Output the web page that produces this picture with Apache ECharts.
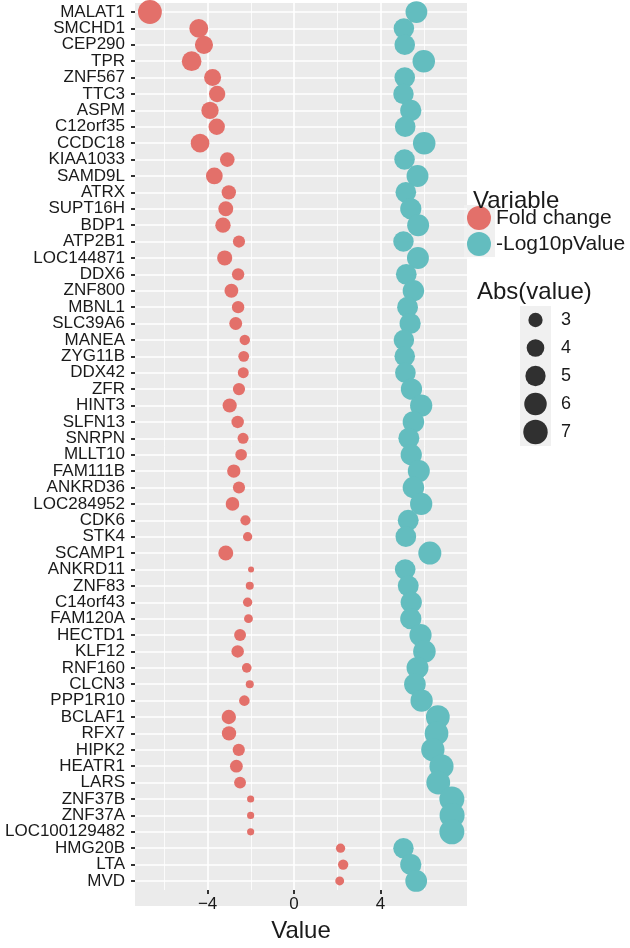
<!DOCTYPE html>
<html><head><meta charset="utf-8">
<script src="https://cdn.jsdelivr.net/npm/echarts@6/dist/echarts.min.js"></script>
<style>html,body{margin:0;padding:0;background:#fff}#c{width:630px;height:948px}</style>
</head><body><div id="c"></div><script>
const genes = ["MALAT1","SMCHD1","CEP290","TPR","ZNF567","TTC3","ASPM","C12orf35","CCDC18","KIAA1033","SAMD9L","ATRX","SUPT16H","BDP1","ATP2B1","LOC144871","DDX6","ZNF800","MBNL1","SLC39A6","MANEA","ZYG11B","DDX42","ZFR","HINT3","SLFN13","SNRPN","MLLT10","FAM111B","ANKRD36","LOC284952","CDK6","STK4","SCAMP1","ANKRD11","ZNF83","C14orf43","FAM120A","HECTD1","KLF12","RNF160","CLCN3","PPP1R10","BCLAF1","RFX7","HIPK2","HEATR1","LARS","ZNF37B","ZNF37A","LOC100129482","HMG20B","LTA","MVD"];
const foldChange = [-6.67,-4.41,-4.17,-4.74,-3.77,-3.56,-3.89,-3.58,-4.35,-3.09,-3.69,-3.02,-3.16,-3.29,-2.55,-3.21,-2.59,-2.90,-2.59,-2.70,-2.28,-2.33,-2.35,-2.55,-2.98,-2.61,-2.36,-2.45,-2.79,-2.55,-2.85,-2.25,-2.15,-3.16,-1.99,-2.05,-2.15,-2.11,-2.50,-2.61,-2.19,-2.05,-2.30,-3.02,-3.01,-2.56,-2.67,-2.50,-2.01,-2.01,-2.01,2.15,2.27,2.11];
const negLog10p = [5.66,5.08,5.12,6.00,5.12,5.06,5.40,5.14,6.02,5.11,5.71,5.17,5.40,5.74,5.06,5.73,5.19,5.52,5.25,5.37,5.08,5.12,5.15,5.43,5.88,5.52,5.31,5.42,5.77,5.52,5.88,5.28,5.17,6.28,5.14,5.28,5.42,5.40,5.85,6.03,5.71,5.59,5.90,6.65,6.59,6.42,6.82,6.67,7.30,7.31,7.30,5.06,5.40,5.65];
const seriesNames = ["Fold change","-Log10pValue"];
const sizeBreaks = ["3","4","5","6","7"];
const xMajorTicks = [-4,0,4];
const xMinorTicks = [-6,-2,2,6];

const FONT = "'Liberation Sans', Arial, Helvetica, sans-serif";
const allAbs = foldChange.concat(negLog10p).map(Math.abs);
const absMin = Math.min(...allAbs), absMax = Math.max(...allAbs);
function dotSize(v){
  const a = Math.abs(v);
  const t = Math.max(0, Math.min(1, (a - absMin) / (absMax - absMin)));
  return 6 + 19 * Math.sqrt(t);
}
const Y_MIN = -0.55, Y_MAX = genes.length - 1 + 0.55;
const rowIdx = genes.map((g, i) => i);
const labelPositions = [Y_MIN].concat(rowIdx, [Y_MAX]);

const chart = echarts.init(document.getElementById('c'), null, {renderer: 'canvas'});
chart.setOption({
  animation: false,
  backgroundColor: '#ffffff',
  textStyle: {fontFamily: FONT},
  title: [
    {text: 'Variable', left: 473, top: 189, textStyle: {fontSize: 24, fontWeight: 'normal', color: '#1a1a1a', fontFamily: FONT}, padding: 0},
    {text: 'Abs(value)', left: 477, top: 280, textStyle: {fontSize: 24, fontWeight: 'normal', color: '#1a1a1a', fontFamily: FONT}, padding: 0}
  ],
  legend: {
    data: seriesNames,
    orient: 'vertical', left: 467, top: 206, padding: 0,
    itemWidth: 24, itemHeight: 24, itemGap: 2, icon: 'circle',
    textStyle: {fontSize: 21, color: '#1a1a1a', fontFamily: FONT},
    selectedMode: false
  },
  graphic: [
    {type: 'rect', left: 464, top: 205, shape: {width: 31, height: 52}, style: {fill: '#F0F0F0'}, z: -1, silent: true},
    {type: 'rect', left: 135, top: 3, shape: {width: 332, height: 903}, style: {fill: '#EBEBEB'}, z: -10, silent: true}
  ],
  grid: [
    {left: 135, top: 3, width: 332, height: 903, show: false, z: -5},
    {left: 520, top: 306, width: 31, height: 140, show: true, backgroundColor: '#F0F0F0', borderWidth: 0, z: -5}
  ],
  xAxis: [
    {type: 'value', gridIndex: 0, min: -7.36, max: 8.0, position: 'bottom',
     name: 'Value', nameLocation: 'middle', nameGap: 29,
     nameTextStyle: {fontSize: 24, color: '#1a1a1a', fontFamily: FONT, verticalAlign: 'top'},
     axisLine: {show: false, onZero: false},
     axisTick: {show: true, length: 4, customValues: xMajorTicks, lineStyle: {color: '#333', width: 2}},
     axisLabel: {customValues: xMajorTicks, fontSize: 17, color: '#1a1a1a', margin: 6, fontFamily: FONT,
       showMinLabel: true, showMaxLabel: true,
       formatter: v => String(v).replace('-', '\u2212')},
     splitLine: {show: true, lineStyle: {color: '#ffffff', width: 1.6}}},
    {type: 'value', gridIndex: 0, min: -7.36, max: 8.0, position: 'top',
     axisLine: {show: false, onZero: false},
     axisTick: {show: false, customValues: xMinorTicks},
     axisLabel: {show: false, customValues: xMinorTicks},
     splitLine: {show: true, lineStyle: {color: '#ffffff', width: 0.8}}},
    {type: 'value', gridIndex: 1, min: -1, max: 1, show: false}
  ],
  yAxis: [
    {type: 'value', gridIndex: 0, min: Y_MIN, max: Y_MAX, inverse: true,
     axisLine: {show: false, onZero: false},
     axisTick: {show: true, length: 4, customValues: rowIdx, lineStyle: {color: '#333', width: 2}},
     axisLabel: {customValues: labelPositions, fontSize: 17, lineHeight: 13, color: '#1a1a1a', margin: 10, fontFamily: FONT,
       showMinLabel: false, showMaxLabel: false, hideOverlap: false,
       formatter: v => (Number.isInteger(v) && genes[v]) ? genes[v] : ''},
     splitLine: {show: true, lineStyle: {color: '#ffffff', width: 1.6}}},
    {type: 'category', gridIndex: 1, data: sizeBreaks, inverse: true, position: 'right',
     axisLine: {show: false}, axisTick: {show: false},
     axisLabel: {fontSize: 18, color: '#1a1a1a', margin: 10, fontFamily: FONT},
     splitLine: {show: false}}
  ],
  series: [
    {name: seriesNames[0], type: 'scatter', xAxisIndex: 0, yAxisIndex: 0,
     data: foldChange.map((v, i) => [v, i]),
     symbol: 'circle', symbolSize: d => dotSize(d[0]),
     itemStyle: {color: '#E3706A', opacity: 1}, z: 3},
    {name: seriesNames[1], type: 'scatter', xAxisIndex: 0, yAxisIndex: 0,
     data: negLog10p.map((v, i) => [v, i]),
     symbol: 'circle', symbolSize: d => dotSize(d[0]),
     itemStyle: {color: '#63BDBF', opacity: 1}, z: 3},
    {name: 'size legend', type: 'scatter', xAxisIndex: 2, yAxisIndex: 1,
     data: sizeBreaks.map(s => [0, s]),
     symbol: 'circle', symbolSize: d => dotSize(Number(d[1])),
     itemStyle: {color: '#000000'}, silent: true}
  ]
});
</script></body></html>
